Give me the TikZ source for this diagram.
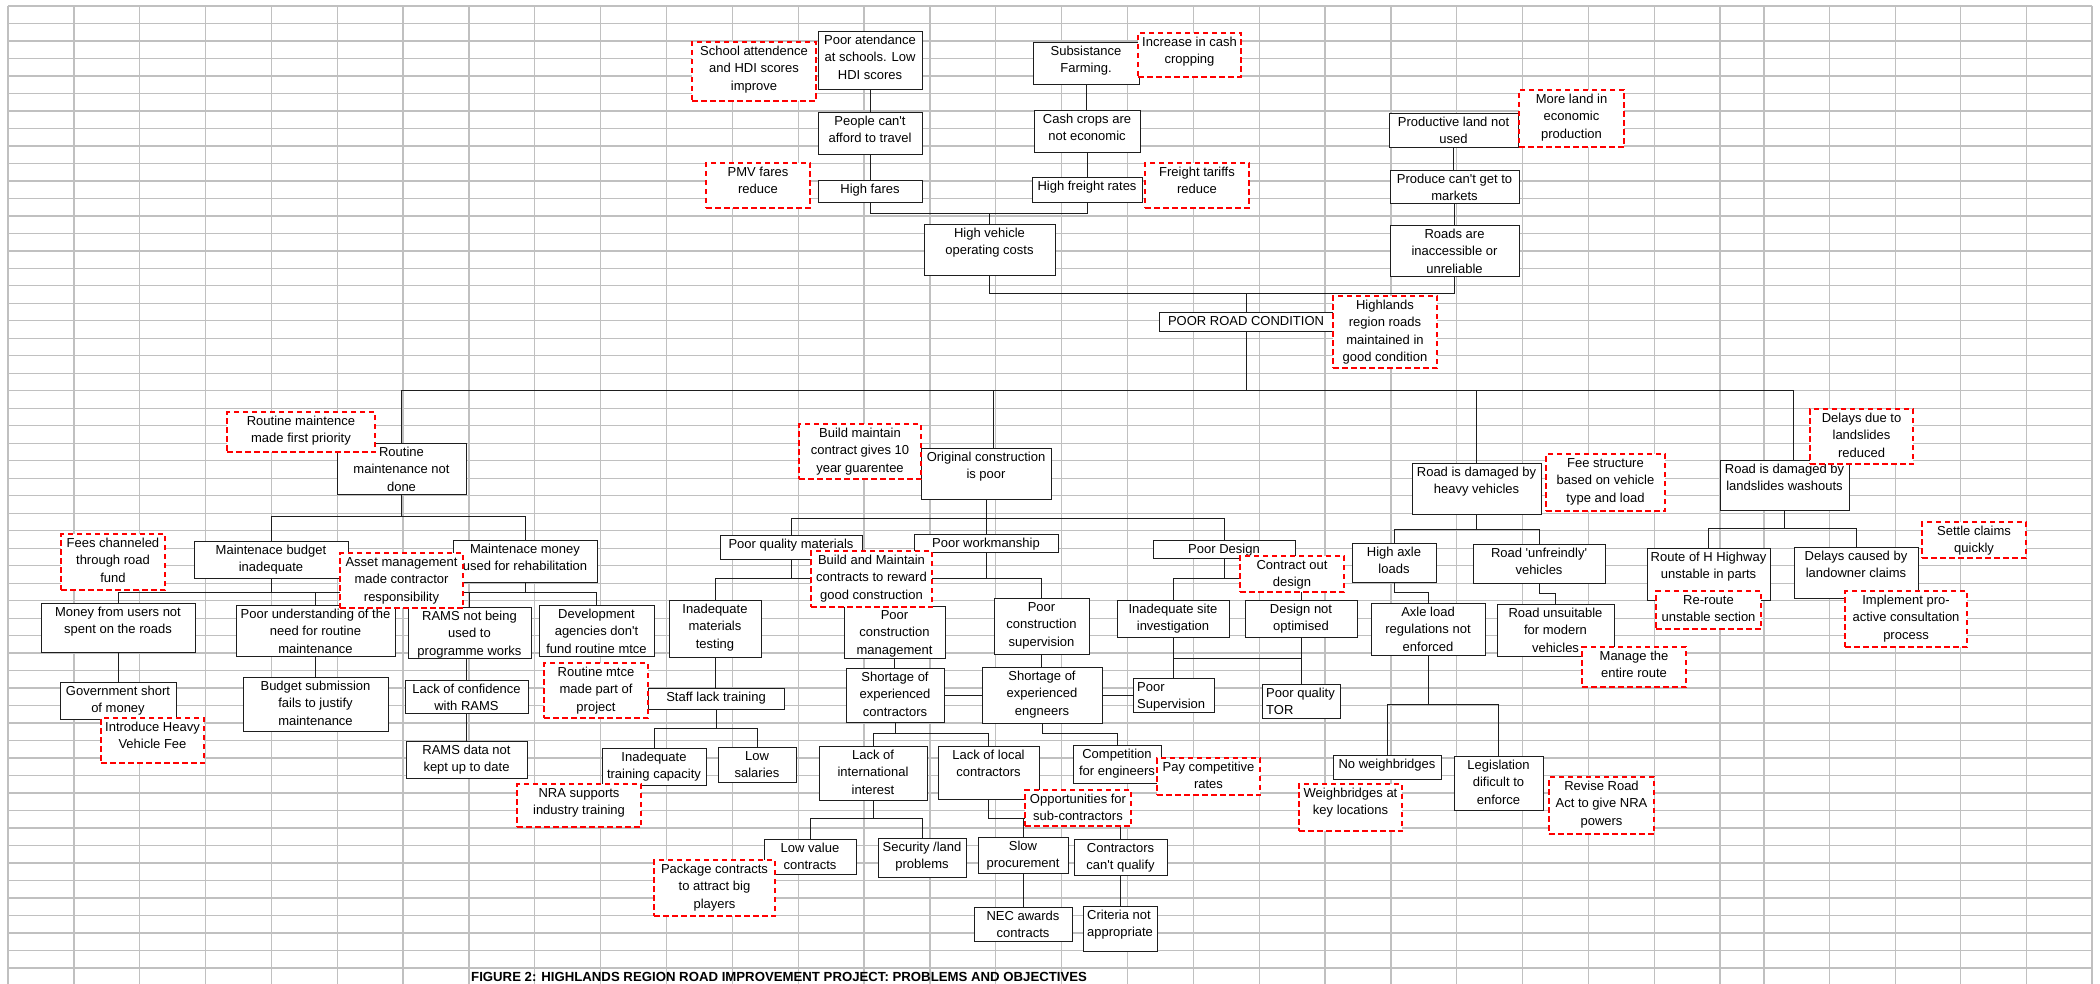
\documentclass[tikz,border=0pt]{standalone}
\usepackage{fontspec}
\setmainfont{Liberation Sans}
\usetikzlibrary{calc}
\pgfdeclarelayer{gridlayer}
\pgfdeclarelayer{linklayer}
\pgfsetlayers{gridlayer,linklayer,main}
\definecolor{gridgray}{RGB}{192,192,192}
\definecolor{objred}{RGB}{255,0,0}
\definecolor{boxline}{RGB}{30,30,30}
\tikzset{
  gridline/.style={draw=gridgray, line width=1.3pt},
  box/.style={draw=boxline, fill=white, line width=0.9pt, inner sep=0pt, outer sep=0pt},
  obj/.style={draw=objred, fill=white, line width=1.7pt, dash pattern=on 5.5pt off 3.5pt, inner sep=0pt, outer sep=0pt},
  txt/.style={font=\fontsize{13}{17.5}\selectfont, align=center, inner sep=0pt, anchor=north, text=black},
  link/.style={draw=boxline, line width=0.9pt},
  capt/.style={font=\bfseries\fontsize{13.2}{15}\selectfont, inner sep=0pt, anchor=base west, text=black}
}
% style, name, x1, y1, x2, y2, text
\newcommand{\bx}[7]{%
  \node[#1, minimum width={(#5)-(#3)}, minimum height={(#6)-(#4)}] (#2) at ({((#3)+(#5))/2},{((#4)+(#6))/2}) {};
  \node[txt] (#2-t) at ([yshift=-0.7pt]#2.north) {\strut #7};}
\newcommand{\lbx}[7]{%
  \node[#1, minimum width={(#5)-(#3)}, minimum height={(#6)-(#4)}] (#2) at ({((#3)+(#5))/2},{((#4)+(#6))/2}) {};
  \node[txt, anchor=north west, align=left] (#2-t) at ([xshift=4pt,yshift=-0.7pt]#2.north west) {\strut #7};}
\begin{document}
\begin{tikzpicture}[x=1pt, y=-1pt]
\useasboundingbox (0,0) rectangle (2100,984);
\begin{pgfonlayer}{gridlayer}
  \fill[white] (0,0) rectangle (2100,984);
  \foreach \i in {0,...,55} \draw[gridline] (8,{6+\i*17.49}) -- (2092,{6+\i*17.49});
  \foreach \i in {0,...,26} \draw[gridline] ({8+\i*65.85},6) -- ({8+\i*65.85},984);
  \foreach \x in {1764,1829.6,1895.2,1960.8,2026.4,2092} \draw[gridline] (\x,6) -- (\x,984);
\end{pgfonlayer}

% ---------- problem boxes ----------
\bx{box}{pa}{818}{31}{922}{89}{Poor atendance\\at schools. Low\\HDI scores}
\bx{box}{pct}{818}{112}{922}{154}{People can\textquotesingle t\\afford to travel}
\bx{box}{hf}{818}{180}{922}{202}{High fares}
\bx{box}{sf}{1033}{42}{1139}{84}{Subsistance\\Farming.}
\bx{box}{cc}{1034}{110}{1140}{152}{Cash crops are\\not economic}
\bx{box}{hfr}{1032}{177}{1142}{202}{High freight rates}
\bx{box}{hv}{924}{224}{1055}{275}{High vehicle\\operating costs}
\bx{box}{pl}{1389}{113}{1518}{147}{Productive land not\\used}
\bx{box}{pm}{1390}{170}{1519}{203}{Produce can\textquotesingle t get to\\markets}
\bx{box}{ri}{1390}{225}{1519}{276}{Roads are\\inaccessible or\\unreliable}
\bx{box}{prc}{1159}{312}{1333}{331}{POOR ROAD CONDITION}
\bx{box}{rm}{337}{443}{466}{494}{Routine\\maintenance not\\done}
\bx{box}{oc}{921}{448}{1051}{499}{Original construction\\is poor}
\bx{box}{hvd}{1412}{463}{1541}{514}{Road is damaged by\\heavy vehicles}
\bx{box}{lsl}{1720}{460}{1849}{510}{Road is damaged by\\landslides washouts}
\bx{box}{mb}{194}{541}{348}{578}{Maintenace budget\\inadequate}
\bx{box}{mmo}{453}{540}{597}{582}{Maintenace money\\used for rehabilitation}
\bx{box}{pqm}{720}{535}{862}{559}{Poor quality materials}
\bx{box}{pw}{914}{534}{1058}{552}{Poor workmanship}
\bx{box}{pd}{1153}{540}{1295}{558}{Poor Design}
\bx{box}{ha}{1352}{543}{1436}{582}{High axle\\loads}
\bx{box}{ru}{1473}{544}{1605}{583}{Road \textquotesingle unfreindly\textquotesingle\\vehicles}
\bx{box}{rh}{1647}{548}{1770}{600}{Route of H Highway\\unstable in parts}
\bx{box}{dc}{1794}{547}{1918}{598}{Delays caused by\\landowner claims}
\bx{box}{mu}{41}{603}{195}{652}{Money from users not\\spent on the roads}
\bx{box}{pu}{236}{605}{395}{656}{Poor understanding of the\\need for routine\\maintenance}
\bx{box}{rams}{408}{607}{531}{658}{RAMS not being\\used to\\programme works}
\bx{box}{da}{539}{605}{654}{656}{Development\\agencies don\textquotesingle t\\fund routine mtce}
\bx{box}{imt}{669}{600}{761}{657}{Inadequate\\materials\\testing}
\bx{box}{pcm}{844}{606}{945}{658}{Poor\\construction\\management}
\bx{box}{pcs}{994}{598}{1089}{654}{Poor\\construction\\supervision}
\bx{box}{isi}{1117}{600}{1229}{637}{Inadequate site\\investigation}
\bx{box}{dno}{1245}{600}{1357}{637}{Design not\\optimised}
\bx{box}{al}{1371}{603}{1485}{655}{Axle load\\regulations not\\enforced}
\bx{box}{rus}{1497}{604}{1614}{656}{Road unsuitable\\for modern\\vehicles}
\bx{box}{gs}{60}{682}{176}{719}{Government short\\of money}
\bx{box}{bs}{243}{677}{388}{731}{Budget submission\\fails to justify\\maintenance}
\bx{box}{lc}{405}{680}{528}{713}{Lack of confidence\\with RAMS}
\bx{box}{rd}{406}{741}{527}{778}{RAMS data not\\kept up to date}
\bx{box}{slt}{648}{688}{784}{709}{Staff lack training}
\bx{box}{sc}{846}{668}{944}{722}{Shortage of\\experienced\\contractors}
\bx{box}{se}{982}{667}{1102}{723}{Shortage of\\experienced\\engneers}
\lbx{box}{ps}{1133}{678}{1214}{712}{Poor\\Supervision}
\lbx{box}{tor}{1262}{684}{1340}{718}{Poor quality\\TOR}
\bx{box}{itc}{602}{748}{706}{785}{Inadequate\\training capacity}
\bx{box}{ls}{718}{747}{796}{782}{Low\\salaries}
\bx{box}{li}{819}{746}{927}{800}{Lack of\\international\\interest}
\bx{box}{ll}{938}{746}{1039}{799}{Lack of local\\contractors}
\bx{box}{ce}{1073}{745}{1161}{783}{Competition\\for engineers}
\bx{box}{nw}{1333}{755}{1441}{779}{No weighbridges}
\bx{box}{lg}{1454}{756}{1543}{810}{Legislation\\dificult to\\enforce}
\bx{box}{lv}{764}{839}{856}{874}{Low value\\contracts}
\bx{box}{sl}{878}{838}{966}{877}{Security /land\\problems}
\bx{box}{sp}{978}{837}{1068}{873}{Slow\\procurement}
\bx{box}{cq}{1074}{839}{1167}{875}{Contractors\\can\textquotesingle t qualify}
\bx{box}{nec}{974}{907}{1072}{941}{NEC awards\\contracts}
\lbx{box}{cn}{1083}{906}{1157}{951}{Criteria not\\appropriate}

% ---------- objective boxes ----------
\bx{obj}{o1}{692}{42}{816}{101}{School attendence\\and HDI scores\\improve}
\bx{obj}{o2}{1138}{33}{1241}{77}{Increase in cash\\cropping}
\bx{obj}{o3}{1519}{90}{1624}{147}{More land in\\economic\\production}
\bx{obj}{o4}{706}{163}{810}{208}{PMV fares\\reduce}
\bx{obj}{o5}{1145}{163}{1249}{208}{Freight tariffs\\reduce}
\bx{obj}{o6}{1333}{296}{1437}{368}{Highlands\\region roads\\maintained in\\good condition}
\bx{obj}{o7}{227}{412}{375}{452}{Routine maintence\\made first priority}
\bx{obj}{o8}{799}{424}{921}{479}{Build maintain\\contract gives 10\\year guarentee}
\bx{obj}{o9}{1546}{454}{1665}{511}{Fee structure\\based on vehicle\\type and load}
\bx{obj}{o10}{1810}{409}{1913}{464}{Delays due to\\landslides\\reduced}
\bx{obj}{o11}{61}{534}{165}{590}{Fees channeled\\through road\\fund}
\bx{obj}{o12}{340}{553}{463}{608}{Asset management\\made contractor\\responsibility}
\bx{obj}{o13}{811}{551}{932}{607}{Build and Maintain\\contracts to reward\\good construction}
\bx{obj}{o14}{1240}{556}{1344}{592}{Contract out\\design}
\bx{obj}{o15}{1922}{522}{2026}{558}{Settle claims\\quickly}
\bx{obj}{o16}{1656}{591}{1761}{629}{Re-route\\unstable section}
\bx{obj}{o17}{1845}{591}{1967}{647}{Implement pro-\\active consultation\\process}
\bx{obj}{o18}{1582}{647}{1686}{687}{Manage the\\entire route}
\bx{obj}{o19}{101}{718}{204}{763}{Introduce Heavy\\Vehicle Fee}
\bx{obj}{o20}{544}{663}{648}{718}{Routine mtce\\made part of\\project}
\bx{obj}{o21}{517}{784}{641}{827}{NRA supports\\industry training}
\bx{obj}{o22}{1157}{758}{1260}{795}{Pay competitive\\rates}
\bx{obj}{o23}{1025}{790}{1131}{826}{Opportunities for\\sub-contractors}
\bx{obj}{o24}{1299}{784}{1402}{831}{Weighbridges at\\key locations}
\bx{obj}{o25}{1549}{777}{1654}{834}{Revise Road\\Act to give NRA\\powers}
\bx{obj}{o26}{654}{860}{775}{916}{Package contracts\\to attract big\\players}

\node[capt] (cap) at (471,981) {FIGURE 2: HIGHLANDS REGION ROAD IMPROVEMENT PROJECT: PROBLEMS AND OBJECTIVES};

% ---------- connectors ----------
\coordinate (bus) at (0,390);
\begin{pgfonlayer}{linklayer}
\draw[link] (pa.south) -- (pct.north);
\draw[link] (pct.south) -- (hf.north);
\draw[link] (sf.south) -- (sf.south |- cc.north);
\draw[link] (cc.south) -- (cc.south |- hfr.north);
\draw[link] (hf.south) -- ++(0,11) -| (hv.north);
\draw[link] (hfr.south) -- ++(0,11) -| (hv.north);
\draw[link] (pl.south) -- (pl.south |- pm.north);
\draw[link] (pm.south) -- (ri.north);
\draw[link] (hv.south) -- ++(0,18) -| (prc.north);
\draw[link] (ri.south) -- ++(0,17) -| (prc.north);
\draw[link] (prc.south) -- (prc.south |- bus);
\draw[link] (rm.north) |- ([xshift=9pt]lsl.north |- bus) -- ([xshift=9pt]lsl.north);
\draw[link] ([xshift=7pt]oc.north) -- ([xshift=7pt]oc.north |- bus);
\draw[link] (hvd.north) -- (hvd.north |- bus);
\draw[link] (rm.south) -- ++(0,22);
\draw[link] (mb.north) -- ++(0,-25) -| (mmo.north);
\draw[link] (oc.south) -- ++(0,19);
\draw[link] (pqm.north) -- ++(0,-17) -| (pd.north);
\draw[link] (pw.north) -- ++(0,-16);
\draw[link] (hvd.south) -- ++(0,15);
\draw[link] (ha.north) -- ++(0,-14) -| (ru.north);
\draw[link] (lsl.south) -- ++(0,18);
\draw[link] (rh.north) -- ++(0,-20) -| (dc.north);
\draw[link] (mb.south) -- ++(0,14);
\draw[link] (mu.north) -- ++(0,-11) -| (rams.north);
\draw[link] (pu.north) -- ++(0,-13);
\draw[link] (mmo.south) -- ++(0,11);
\draw[link] (rams.north) -- ++(0,-15) -| (da.north);
\draw[link] (mu.south) -- (gs.north);
\draw[link] (pu.south) -- (bs.north);
\draw[link] (lc.north) -- (lc.north |- rams.south);
\draw[link] (lc.south) -- (rd.north);
\draw[link] (pqm.south) -- ++(0,19);
\draw[link] (imt.north) -- ++(0,-22) -| (pcs.north);
\draw[link] (pw.south) -- ++(0,26);
\draw[link] (pcm.north) -- ++(0,-28);
\draw[link] (imt.south) -- (imt.south |- slt.north);
\draw[link] (slt.south) -- ++(0,19);
\draw[link] (itc.north) -- ++(0,-20) -| (ls.north);
\draw[link] (pcm.south) -- (pcm.south |- sc.north);
\draw[link] (pcs.south) -- (pcs.south |- se.north);
\draw[link] (sc.east) -- (se.west);
\draw[link] (se.east) -- (ps.west);
\draw[link] (sc.south) -- ++(0,11);
\draw[link] (li.north) -- ++(0,-13) -| (ll.north);
\draw[link] (se.south) -- ++(0,10) -| (ce.north);
\draw[link] (li.south) -- ++(0,18);
\draw[link] (lv.north) -- ++(0,-21) -| (sl.north);
\draw[link] (ll.south) -- ++(0,19) -| (cq.north);
\draw[link] (sp.north) -- ++(0,-19);
\draw[link] (sp.south) -- (nec.north);
\draw[link] (cq.south) -- (cq.south |- cn.north);
\draw[link] (pd.south) -- ++(0,20);
\draw[link] (isi.north) -- ++(0,-22) -| (dno.north);
\draw[link] (isi.south) -- ++(0,21) -| (tor.north);
\draw[link] (ps.north) -- ++(0,-20);
\draw[link] (dno.south) -- ++(0,21);
\draw[link] (ha.south) -- ++(0,10) -| (al.north);
\draw[link] (ru.south) -- ++(0,10) -| (rus.north);
\draw[link] (al.south) -- ++(0,49);
\draw[link] (nw.north) -- ++(0,-51) -| (lg.north);
\end{pgfonlayer}
\end{tikzpicture}
\end{document}
